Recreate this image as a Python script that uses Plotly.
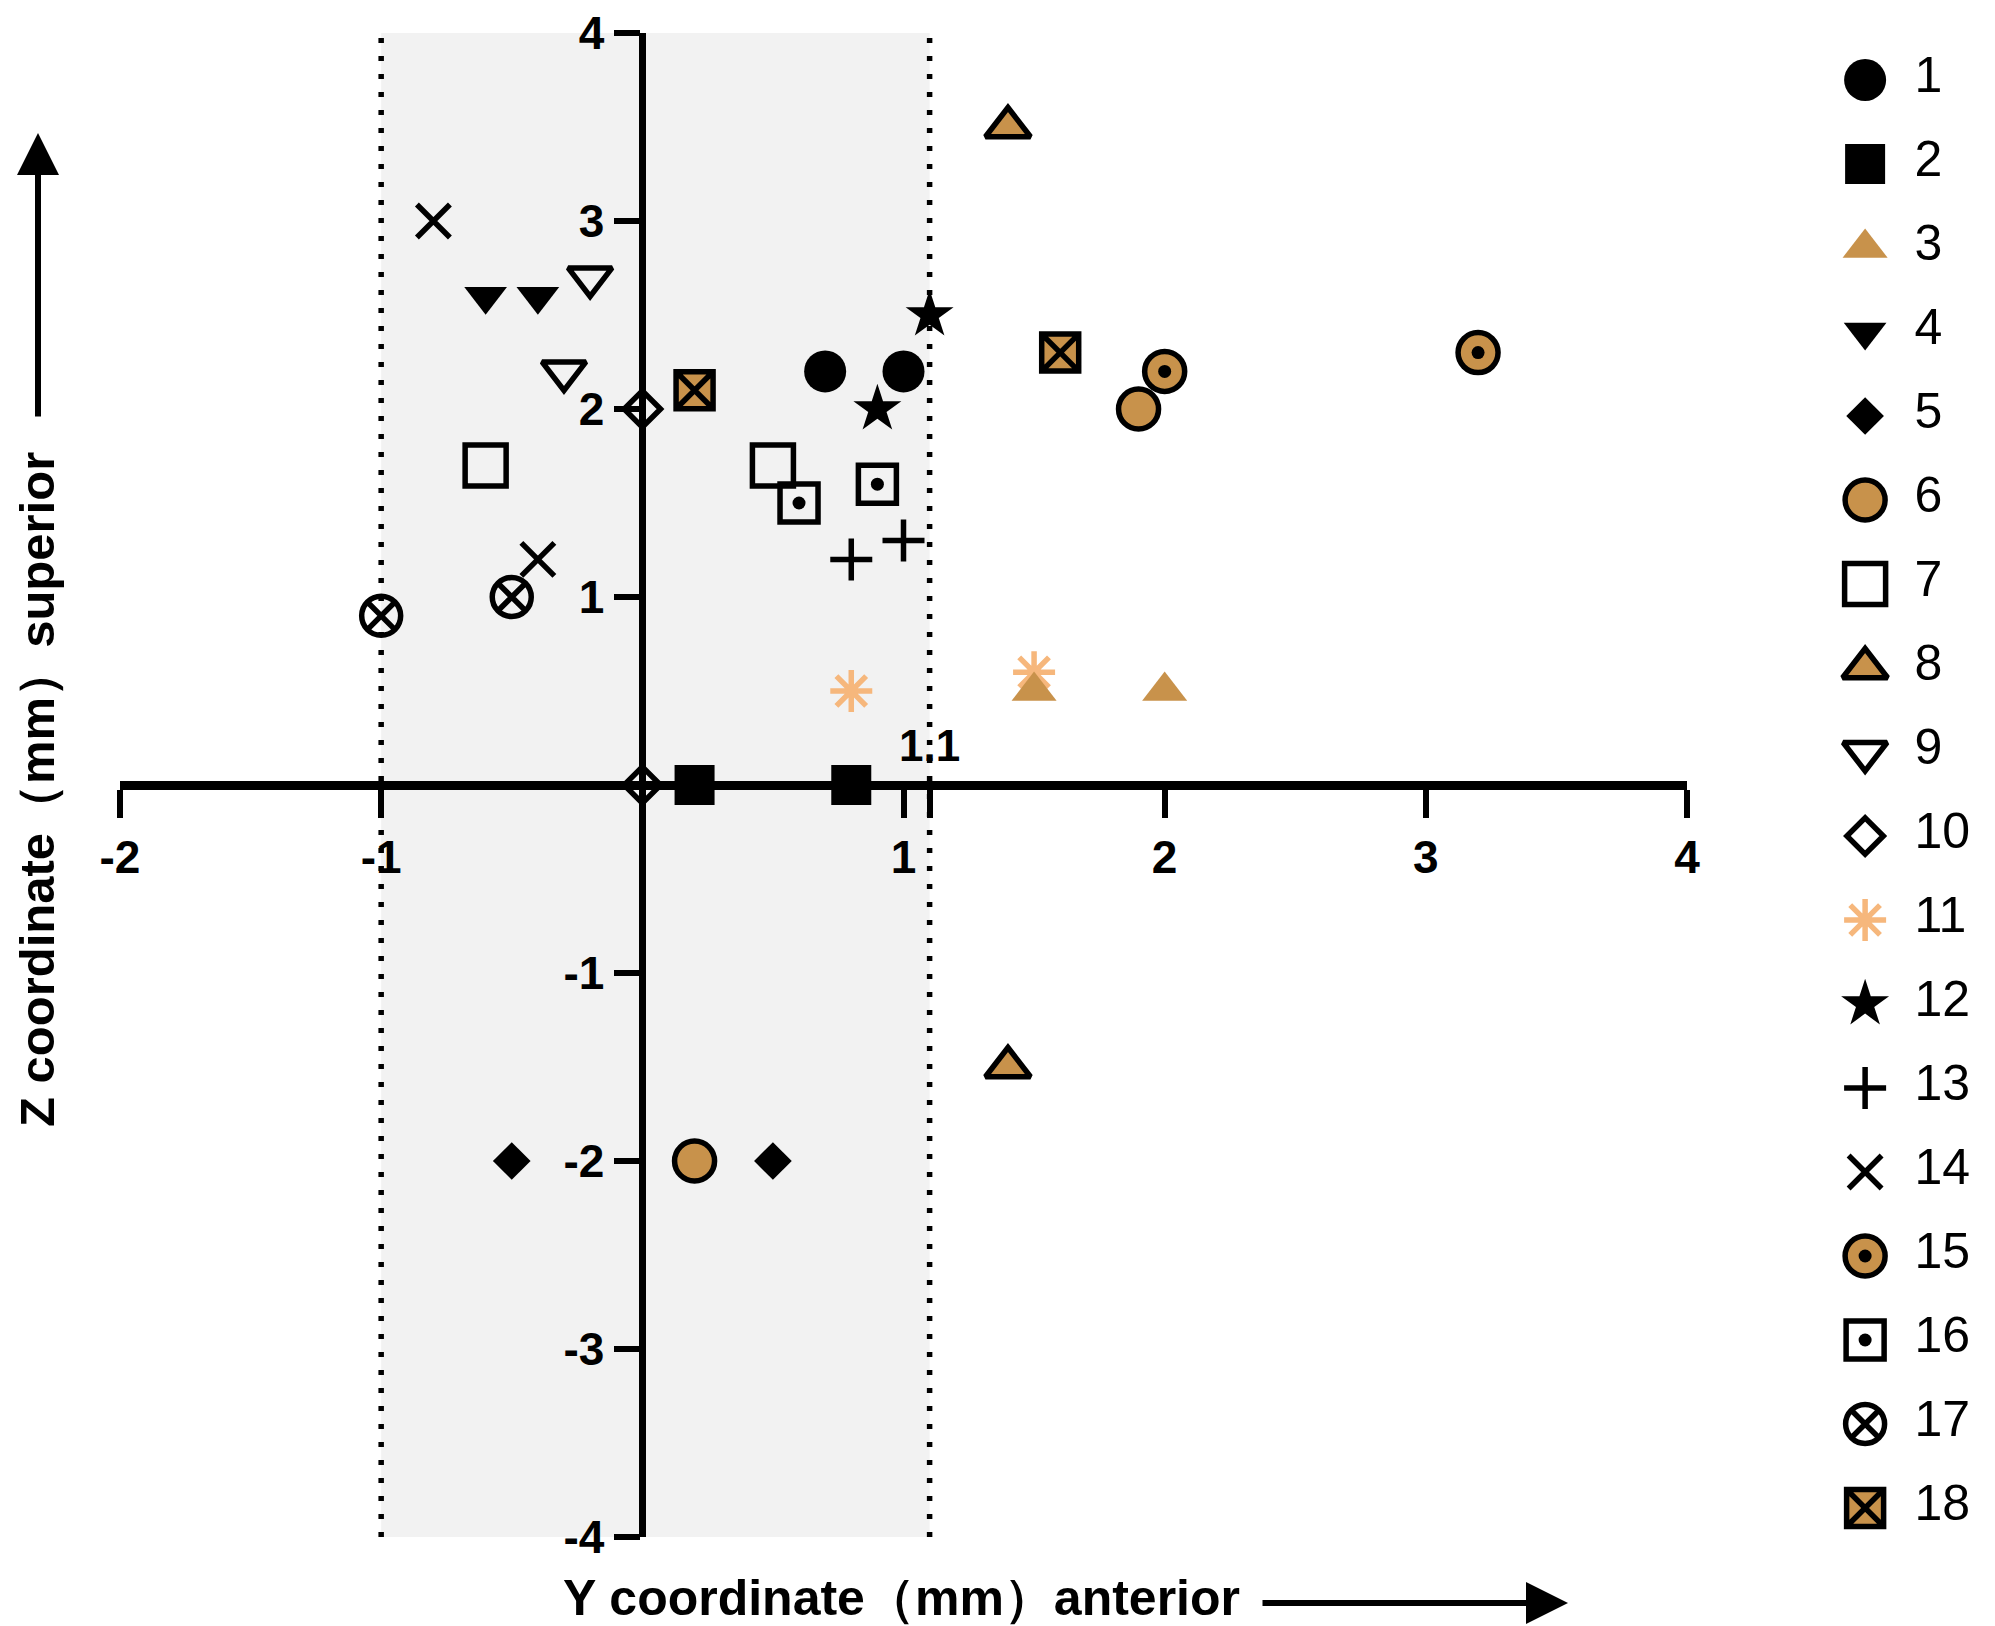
import plotly.graph_objects as go

# punkter per grupp (Y, Z i mm)
names = [str(i) for i in range(1, 19)]
series_x = [
    [0.7, 1.0], [0.2, 0.8], [1.5, 2.0], [-0.6, -0.4], [-0.5, 0.5], [1.9, 0.2],
    [-0.6, 0.5], [1.4, 1.4], [-0.2, -0.3], [0.0, 0.0], [0.8, 1.5], [1.1, 0.9],
    [0.8, 1.0], [-0.8, -0.4], [2.0, 3.2], [0.6, 0.9], [-1.0, -0.5], [0.2, 1.6],
]
series_y = [
    [2.2, 2.2], [0.0, 0.0], [0.5, 0.5], [2.6, 2.6], [-2.0, -2.0], [2.0, -2.0],
    [1.7, 1.7], [3.5, -1.5], [2.7, 2.2], [2.0, 0.0], [0.5, 0.6], [2.5, 2.0],
    [1.2, 1.3], [3.0, 1.2], [2.2, 2.3], [1.5, 1.6], [0.9, 1.0], [2.1, 2.3],
]
band_lo, band_hi = -1.0, 1.1
x_ticks = [-2, -1, 1, 1.1, 2, 3, 4]
x_ticktext = ["-2", "-1", "1", "", "2", "3", "4"]
y_ticks = [-4, -3, -2, -1, 1, 2, 3, 4]
y_ticktext = ["-4", "-3", "-2", "-1", "1", "2", "3", "4"]

TAN = "#C8924B"
PEACH = "#F6B77C"
BLACK = "black"

# symbol, fyllnad, kantfärg, kantbredd, storlek
styles = [
    ("circle", BLACK, BLACK, 0, 42),
    ("square", BLACK, BLACK, 0, 40),
    ("triangle-up", TAN, TAN, 0, 39),
    ("triangle-down", BLACK, BLACK, 0, 37),
    ("diamond", BLACK, BLACK, 0, 29),
    ("circle", TAN, BLACK, 5.5, 40),
    ("square-open", BLACK, BLACK, 5.5, 41),
    ("triangle-up", TAN, BLACK, 5.5, 39),
    ("triangle-down-open", BLACK, BLACK, 5.5, 38),
    ("diamond-open", BLACK, BLACK, 5.5, 28),
    ("asterisk-open", PEACH, PEACH, 5.5, 35),
    ("star", BLACK, BLACK, 0, 36),
    ("cross-thin-open", BLACK, BLACK, 5.5, 30),
    ("x-thin-open", BLACK, BLACK, 5.5, 33),
    ("circle", TAN, BLACK, 5.5, 40),
    ("square-open", BLACK, BLACK, 5.5, 38),
    ("circle-x-open", BLACK, BLACK, 5.5, 39),
    ("square-x", TAN, BLACK, 5.5, 37),
]
dotted = {"15", "16"}

W, H = 1995, 1626
xd = [112 / W, 1679 / W]
yd = [1 - 1529 / H, 1 - 25 / H]
pos_y_axis = xd[0] + (0 - (-2)) / 6 * (xd[1] - xd[0])
pos_x_axis = yd[0] + (0 - (-4)) / 8 * (yd[1] - yd[0])

BOLD = "Liberation Sans, Arial, sans-serif"

fig = go.Figure()

# ritas baklänges så att 3 hamnar över 11
for i in reversed(range(len(names))):
    sym, fill, lc, lw, sz = styles[i]
    fig.add_trace(go.Scatter(
        x=series_x[i], y=series_y[i], mode="markers", name=names[i],
        marker=dict(symbol=sym, color=fill, size=sz, line=dict(color=lc, width=lw)),
        cliponaxis=False, showlegend=False,
    ))
    if names[i] in dotted:
        fig.add_trace(go.Scatter(
            x=series_x[i], y=series_y[i], mode="markers", showlegend=False,
            marker=dict(symbol="circle", color=BLACK, size=13), cliponaxis=False,
        ))

# egen legend till höger
leg_idx = list(range(1, len(names) + 1))
for i in range(len(names)):
    sym, fill, lc, lw, sz = styles[i]
    fig.add_trace(go.Scatter(
        x=[0.424], y=[leg_idx[i]], xaxis="x2", yaxis="y2", mode="markers",
        marker=dict(symbol=sym, color=fill, size=sz, line=dict(color=lc, width=lw)),
        showlegend=False, cliponaxis=False,
    ))
    if names[i] in dotted:
        fig.add_trace(go.Scatter(
            x=[0.424], y=[leg_idx[i]], xaxis="x2", yaxis="y2", mode="markers",
            marker=dict(symbol="circle", color=BLACK, size=13),
            showlegend=False, cliponaxis=False,
        ))
fig.add_trace(go.Scatter(
    x=[0.63] * len(names), y=leg_idx, xaxis="x2", yaxis="y2", mode="text",
    text=names, textposition="middle right",
    textfont=dict(family="Liberation Sans, Arial, sans-serif", size=50, color=BLACK),
    showlegend=False, cliponaxis=False,
))

# grått band + prickade linjer
fig.add_shape(type="rect", x0=band_lo, x1=band_hi, y0=-4, y1=4, xref="x", yref="y",
              fillcolor="#F2F2F2", line=dict(width=0), layer="below")
for xv in (band_lo, band_hi):
    fig.add_shape(type="line", x0=xv, x1=xv, y0=-4, y1=4, xref="x", yref="y",
                  line=dict(color=BLACK, width=5.5, dash="5px,13px"), layer="below")

fig.add_annotation(x=band_hi, y=0.21, xref="x", yref="y", text="1.1", showarrow=False,
                   xanchor="center", yanchor="middle",
                   font=dict(family=BOLD, size=44, color=BLACK, weight="bold"))

# axeltitlar med pilar
fig.add_annotation(x=893 / W, y=1 - 1590 / H, xref="paper", yref="paper",
                   text="Y coordinate（mm）anterior", showarrow=False,
                   xanchor="center", yanchor="middle",
                   font=dict(family=BOLD, size=50, color=BLACK, weight="bold"))
fig.add_annotation(x=1560 / W, y=1 - 1595 / H, xref="paper", yref="paper", text="",
                   showarrow=True, ax=-307, ay=0, arrowhead=2, arrowsize=1.4,
                   arrowwidth=6, arrowcolor=BLACK)
fig.add_annotation(x=29 / W, y=1 - 782 / H, xref="paper", yref="paper",
                   text="Z coordinate（mm）superior", textangle=-90, showarrow=False,
                   xanchor="center", yanchor="middle",
                   font=dict(family=BOLD, size=49, color=BLACK, weight="bold"))
fig.add_annotation(x=30 / W, y=1 - 125 / H, xref="paper", yref="paper", text="",
                   showarrow=True, ax=0, ay=285, arrowhead=2, arrowsize=1.4,
                   arrowwidth=6, arrowcolor=BLACK)

tickfont = dict(family=BOLD, size=46, color=BLACK, weight="bold")
a = 0.143
b = a + 17 * H / 1428
fig.update_layout(
    width=W, height=H, margin=dict(l=0, r=0, t=0, b=0),
    paper_bgcolor="white", plot_bgcolor="rgba(0,0,0,0)",
    showlegend=False,
    xaxis=dict(domain=xd, range=[-2, 4], anchor="free", position=pos_x_axis,
               showline=True, linewidth=9, linecolor=BLACK, ticks="outside",
               ticklen=28, tickwidth=6, tickcolor=BLACK, tickvals=x_ticks,
               ticktext=x_ticktext, tickfont=tickfont, showgrid=False,
               zeroline=False, automargin=False, ticklabeloverflow="allow"),
    yaxis=dict(domain=yd, range=[-4, 4], anchor="free", position=pos_y_axis,
               showline=True, linewidth=6.5, linecolor=BLACK, ticks="outside",
               ticklen=26, tickwidth=6, tickcolor=BLACK, tickvals=y_ticks,
               ticktext=y_ticktext, tickfont=tickfont, showgrid=False,
               zeroline=False, automargin=False, ticklabeloverflow="allow"),
    xaxis2=dict(domain=[0.88, 1.0], range=[0, 1], anchor="y2", visible=False),
    yaxis2=dict(domain=[0, 1], range=[b, a], anchor="x2", visible=False),
)

fig.write_html("out.html")
